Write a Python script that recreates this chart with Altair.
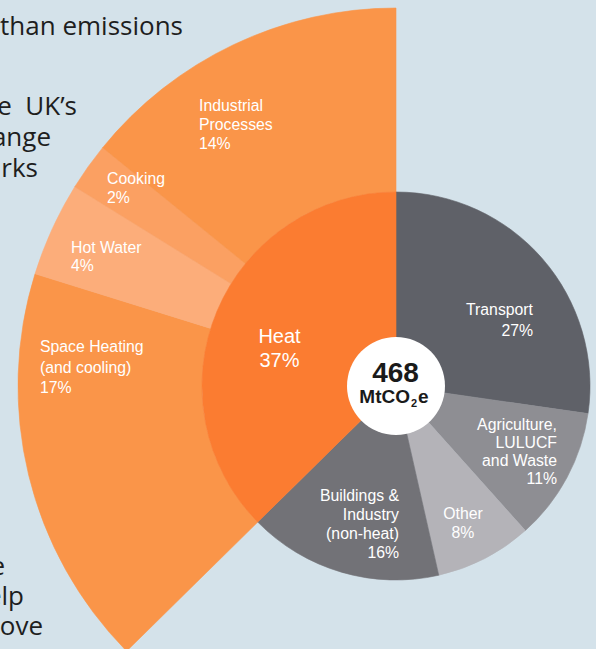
import math
import altair as alt
import pandas as pd

# ---------------- data ----------------
inner_cats = ["Transport", "Agriculture, LULUCF and Waste", "Other",
              "Buildings & Industry (non-heat)", "Heat"]
inner_vals = [27, 11, 8, 16, 37]
inner_text = ["Transport", "Agriculture,\nLULUCF\nand Waste", "Other",
              "Buildings &\u00a0\nIndustry\n(non-heat)", "Heat"]

outer_cats = ["Space Heating (and cooling)", "Hot Water", "Cooking", "Industrial Processes"]
outer_vals = [17, 4, 2, 14]
outer_text = ["Space Heating\n(and cooling)", "Hot Water", "Cooking", "Industrial\nProcesses"]

total_value = "468"
total_unit = ["MtCO", "2", "e"]

bg_lines_top = ["than emissions", "e\u00a0\u00a0UK\u2019s", "ange", "rks"]
bg_lines_bottom = ["e", "elp", "ove"]

# ---------------- styles ----------------
colors = {
    "Transport": "#5f6168",
    "Agriculture, LULUCF and Waste": "#8e8e93",
    "Other": "#b4b3b8",
    "Buildings & Industry (non-heat)": "#727277",
    "Heat": "#fb7c31",
    "Space Heating (and cooling)": "#fa9549",
    "Hot Water": "#fcad7a",
    "Cooking": "#fba062",
    "Industrial Processes": "#fa9549",
}
BG = "#d4e2ea"
CX, CY = 396, 386
R_IN, R_OUT, R_HOLE = 194, 378, 49
FONT = "Liberation Sans"
LS = 15.8

# label layout: x, first baseline y, align, size, line height
layout = {
    "Transport": (533, 315, "right", LS, 20.5),
    "Agriculture, LULUCF and Waste": (557, 430, "right", LS, 18),
    "Other": (463, 519, "center", LS, 19),
    "Buildings & Industry (non-heat)": (399, 501, "right", LS, 19),
    "Heat": (279.5, 343, "center", 20, 24),
    "Space Heating (and cooling)": (40, 352, "left", LS, 20.5),
    "Hot Water": (71, 252.5, "left", LS, 18.5),
    "Cooking": (107, 184, "left", LS, 19),
    "Industrial Processes": (199, 110.5, "left", LS, 19),
}

# ---------------- table ----------------
rows = []
acc = 0
for c, v, t in zip(inner_cats, inner_vals, inner_text):
    rows.append({"ring": "inner", "cat": c, "value": v, "start": acc, "end": acc + v, "text": t})
    acc += v
grand_total = acc
acc = sum(inner_vals[:-1])
for c, v, t in zip(outer_cats, outer_vals, outer_text):
    rows.append({"ring": "outer", "cat": c, "value": v, "start": acc, "end": acc + v, "text": t})
    acc += v
df = pd.DataFrame(rows)

dom = list(colors.keys())
rng = [colors[k] for k in dom]
color_scale = alt.Scale(domain=dom, range=rng)
theta_scale = alt.Scale(domain=[0, grand_total], range=[0, 2 * math.pi])

base = alt.Chart(df)
arc_enc = dict(
    theta=alt.Theta("start:Q", scale=theta_scale),
    theta2="end:Q",
    color=alt.Color("cat:N", scale=color_scale, legend=None),
    stroke=alt.Stroke("cat:N", scale=color_scale, legend=None),
    x=alt.value(CX),
    y=alt.value(CY),
)

outer = base.transform_filter(alt.datum.ring == "outer").mark_arc(
    innerRadius=R_IN, outerRadius=R_OUT, strokeWidth=0.6).encode(**arc_enc)
inner = base.transform_filter(alt.datum.ring == "inner").mark_arc(
    innerRadius=0, outerRadius=R_IN, strokeWidth=0.6).encode(**arc_enc)

hole = alt.Chart(pd.DataFrame({"v": [1]})).mark_arc(
    innerRadius=0, outerRadius=R_HOLE, color="white").encode(
    theta=alt.value(0), theta2=alt.value(2 * math.pi), x=alt.value(CX), y=alt.value(CY))

layers = [outer, inner, hole]

# category labels
for r in rows:
    x, y, align, size, lh = layout[r["cat"]]
    pct = f"{r['value']}%" + ("\u00a0" if r["cat"].startswith("Buildings") else "")
    ldf = pd.DataFrame({"label": [r["text"] + "\n" + pct]})
    layers.append(
        alt.Chart(ldf).mark_text(
            align=align, baseline="alphabetic", lineBreak="\n", lineHeight=lh,
            fontSize=size, font=FONT, color="white").encode(
            x=alt.value(x), y=alt.value(y), text="label:N")
    )

# centre total
layers.append(alt.Chart(pd.DataFrame({"t": [total_value]})).mark_text(
    align="center", baseline="alphabetic", fontSize=28, fontWeight="bold",
    font=FONT, color="#1a1a1a").encode(x=alt.value(395.5), y=alt.value(382), text="t:N"))
layers.append(alt.Chart(pd.DataFrame({"t": [total_unit[0]]})).mark_text(
    align="right", baseline="alphabetic", fontSize=19, fontWeight="bold",
    font=FONT, color="#1a1a1a").encode(x=alt.value(410), y=alt.value(402.5), text="t:N"))
layers.append(alt.Chart(pd.DataFrame({"t": [total_unit[1]]})).mark_text(
    align="left", baseline="alphabetic", fontSize=11, fontWeight="bold",
    font=FONT, color="#1a1a1a").encode(x=alt.value(411), y=alt.value(407), text="t:N"))
layers.append(alt.Chart(pd.DataFrame({"t": [total_unit[2]]})).mark_text(
    align="left", baseline="alphabetic", fontSize=19, fontWeight="bold",
    font=FONT, color="#1a1a1a").encode(x=alt.value(418), y=alt.value(402.5), text="t:N"))

# background page text (clipped)
bg_top_pos = [(183, 35), (77, 115), (51, 146), (38, 177)]
bg_bot_pos = [(5, 575), (24, 605), (43, 635)]
for txt, (x, y) in zip(bg_lines_top + bg_lines_bottom, bg_top_pos + bg_bot_pos):
    layers.append(alt.Chart(pd.DataFrame({"t": [txt]})).mark_text(
        align="right", baseline="alphabetic", fontSize=26, font="Open Sans",
        color="#1e1e1e").encode(x=alt.value(x), y=alt.value(y), text="t:N"))

chart = alt.layer(*layers).properties(
    width=596, height=649, padding=0, background=BG,
    autosize=alt.AutoSizeParams(type="none"),
).configure_view(strokeWidth=0)

chart.save("out.html", embed_options={"renderer": "svg", "actions": False})
